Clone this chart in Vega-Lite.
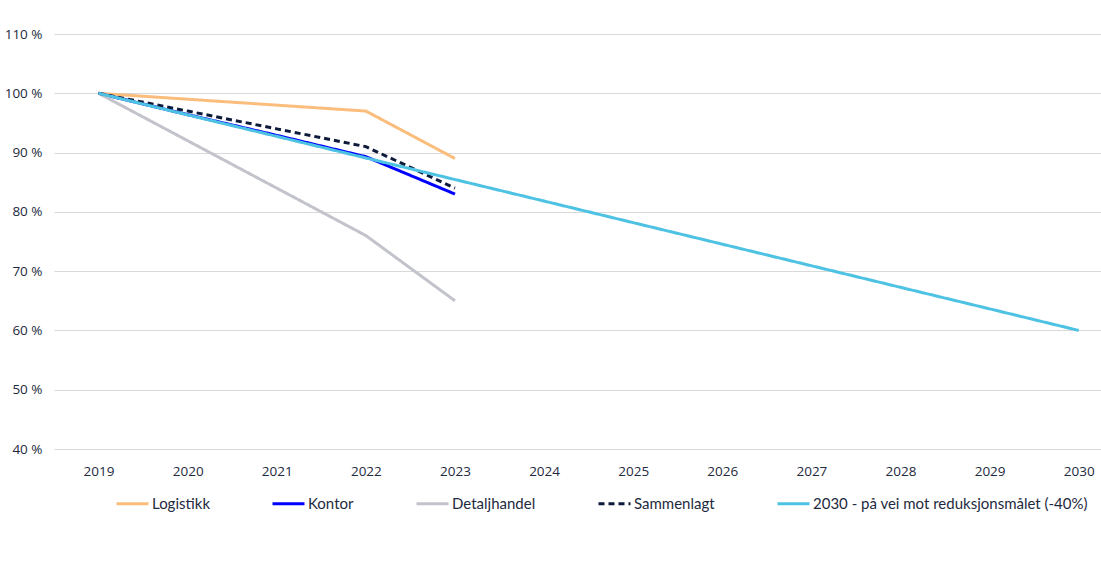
{
  "$schema": "https://vega.github.io/schema/vega-lite/v6.json",
  "autosize": "none",
  "padding": {"left": 54, "top": 34, "right": 0, "bottom": 121},
  "width": 1047,
  "height": 415,
  "background": "white",
  "config": {
    "view": {"stroke": null},
    "font": "Open Sans",
    "axis": {"labelFont": "Open Sans", "labelFontSize": 13.5, "labelColor": "#1E2A40"},
    "legend": {"labelFont": "Lato", "labelFontSize": 15, "labelColor": "#1E2A40"}
  },
  "data": {
    "values": [
      {"year": 2019, "series": "Logistikk", "value": 100},
      {"year": 2020, "series": "Logistikk", "value": 99},
      {"year": 2021, "series": "Logistikk", "value": 98},
      {"year": 2022, "series": "Logistikk", "value": 97},
      {"year": 2023, "series": "Logistikk", "value": 89},
      {"year": 2019, "series": "Kontor", "value": 100},
      {"year": 2020, "series": "Kontor", "value": 96.4},
      {"year": 2021, "series": "Kontor", "value": 92.9},
      {"year": 2022, "series": "Kontor", "value": 89.3},
      {"year": 2023, "series": "Kontor", "value": 83},
      {"year": 2019, "series": "Detaljhandel", "value": 100},
      {"year": 2020, "series": "Detaljhandel", "value": 92},
      {"year": 2021, "series": "Detaljhandel", "value": 84},
      {"year": 2022, "series": "Detaljhandel", "value": 76},
      {"year": 2023, "series": "Detaljhandel", "value": 65},
      {"year": 2019, "series": "Sammenlagt", "value": 100},
      {"year": 2020, "series": "Sammenlagt", "value": 97},
      {"year": 2021, "series": "Sammenlagt", "value": 94},
      {"year": 2022, "series": "Sammenlagt", "value": 91},
      {"year": 2023, "series": "Sammenlagt", "value": 84},
      {"year": 2019, "series": "2030 - på vei mot reduksjonsmålet (-40%)", "value": 100},
      {"year": 2020, "series": "2030 - på vei mot reduksjonsmålet (-40%)", "value": 96.36},
      {"year": 2021, "series": "2030 - på vei mot reduksjonsmålet (-40%)", "value": 92.73},
      {"year": 2022, "series": "2030 - på vei mot reduksjonsmålet (-40%)", "value": 89.09},
      {"year": 2023, "series": "2030 - på vei mot reduksjonsmålet (-40%)", "value": 85.45},
      {"year": 2024, "series": "2030 - på vei mot reduksjonsmålet (-40%)", "value": 81.82},
      {"year": 2025, "series": "2030 - på vei mot reduksjonsmålet (-40%)", "value": 78.18},
      {"year": 2026, "series": "2030 - på vei mot reduksjonsmålet (-40%)", "value": 74.55},
      {"year": 2027, "series": "2030 - på vei mot reduksjonsmålet (-40%)", "value": 70.91},
      {"year": 2028, "series": "2030 - på vei mot reduksjonsmålet (-40%)", "value": 67.27},
      {"year": 2029, "series": "2030 - på vei mot reduksjonsmålet (-40%)", "value": 63.64},
      {"year": 2030, "series": "2030 - på vei mot reduksjonsmålet (-40%)", "value": 60}
    ]
  },
  "mark": {"type": "line", "strokeWidth": 3, "strokeCap": "butt"},
  "encoding": {
    "x": {
      "field": "year", "type": "quantitative",
      "scale": {"domain": [2018.5, 2030.25], "nice": false, "zero": false},
      "axis": {
        "title": null, "values": [2019, 2020, 2021, 2022, 2023, 2024, 2025, 2026, 2027, 2028, 2029, 2030],
        "format": "d", "grid": false, "domain": false, "ticks": false, "labelPadding": 15
      }
    },
    "y": {
      "field": "value", "type": "quantitative",
      "scale": {"domain": [40, 110], "nice": false, "zero": false},
      "axis": {
        "title": null, "values": [40, 50, 60, 70, 80, 90, 100, 110],
        "labelExpr": "datum.value + ' %'", "grid": true, "gridColor": "#D9D9D9", "gridWidth": 1,
        "domain": false, "ticks": false, "labelPadding": 12
      }
    },
    "color": {
      "field": "series", "type": "nominal",
      "scale": {
        "domain": ["Logistikk", "Kontor", "Detaljhandel", "Sammenlagt", "2030 - på vei mot reduksjonsmålet (-40%)"],
        "range": ["#FBBD7C", "#0000FF", "#C2C3CB", "#0D1A3A", "#4EC2E3"]
      },
      "legend": {
        "title": null, "orient": "none", "direction": "horizontal", "legendX": 61, "legendY": 452,
        "symbolType": "stroke", "symbolSize": 1024, "symbolStrokeWidth": 3, "labelOffset": 2,
        "columnPadding": 56, "columns": 5, "labelLimit": 400
      }
    },
    "strokeDash": {
      "field": "series", "type": "nominal",
      "scale": {
        "domain": ["Logistikk", "Kontor", "Detaljhandel", "Sammenlagt", "2030 - på vei mot reduksjonsmålet (-40%)"],
        "range": [[1, 0], [1, 0], [1, 0], [6, 4], [1, 0]]
      },
      "legend": {
        "title": null, "orient": "none", "direction": "horizontal", "legendX": 61, "legendY": 452,
        "symbolType": "stroke", "symbolSize": 1024, "symbolStrokeWidth": 3, "labelOffset": 2,
        "columnPadding": 56, "columns": 5, "labelLimit": 400
      }
    }
  }
}
